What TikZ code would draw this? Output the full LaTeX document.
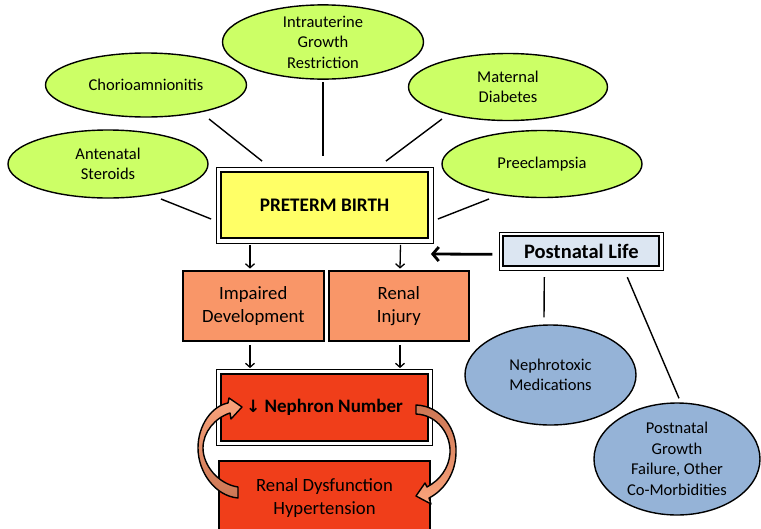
\documentclass[tikz,border=0pt]{standalone}
\usepackage{fontspec}
\setmainfont{Carlito}
\newfontfamily\symfont{DejaVu Sans}
\usetikzlibrary{shapes.geometric,arrows.meta}
\definecolor{lgreen}{RGB}{204,255,102}
\definecolor{lblue}{RGB}{149,179,215}
\definecolor{pyellow}{RGB}{255,255,102}
\definecolor{pale}{RGB}{220,230,242}
\definecolor{lorange}{RGB}{249,150,104}
\definecolor{dred}{RGB}{240,62,26}
\definecolor{arrlight}{RGB}{250,164,124}
\definecolor{arrdark}{RGB}{204,118,84}
\tikzset{
  txt/.style={font=\fontsize{16.5}{20.5}\selectfont, align=center, text=black},
  btxt/.style={font=\fontsize{18.7}{23}\selectfont, align=center, text=black},
  gell/.style={ellipse, draw=black, line width=1.4pt, fill=lgreen, inner sep=0pt, txt},
  bell/.style={ellipse, draw=black, line width=1.4pt, fill=lblue, inner sep=0pt, txt},
  dbox/.style={rectangle, draw=black, line width=1.8pt, inner sep=0pt, btxt},
  sbox/.style={rectangle, draw=black, line width=1.8pt, inner sep=0pt, btxt},
  conn/.style={draw=black, line width=1.4pt},
  arr/.style={draw=black, line width=1.3pt, -{Straight Barb[length=4pt,width=9pt]}},
  bigarr/.style={draw=black, line width=2.8pt, -{Straight Barb[length=6pt,width=14pt]}},
  outerline/.style={draw=black, line width=0.8pt},
  curvarr/.style={draw=black, line width=1.4pt, line join=round},
}
\begin{document}
\begin{tikzpicture}[x=1pt,y=-1pt]
\clip (0,0) rectangle (761,528);
\fill[white] (0,0) rectangle (761,528);

% green ellipses
\node[gell, minimum width=201pt, minimum height=64pt] (iugr) at (323,42) {Intrauterine\\Growth\\Restriction};
\node[gell, minimum width=201pt, minimum height=64pt] (chorio) at (146,85) {Chorioamnionitis};
\node[gell, minimum width=199pt, minimum height=67pt] (matdia) at (508,87) {Maternal\\Diabetes};
\node[gell, minimum width=200pt, minimum height=68pt] (ante) at (108,164) {Antenatal\\Steroids};
\node[gell, minimum width=200pt, minimum height=67pt] (preec) at (542,164) {Preeclampsia};

% preterm birth
\node[dbox, fill=pyellow, minimum width=207pt, minimum height=66pt] (preterm) at (324.5,205) {\fontsize{19.2}{23}\selectfont\bfseries PRETERM BIRTH};
\draw[outerline] ([shift={(-4,-4)}]preterm.north west) rectangle ([shift={(4,4)}]preterm.south east);

% postnatal life
\node[dbox, fill=pale, minimum width=156pt, minimum height=30pt] (postnatal) at (581.3,251.3) {\fontsize{20.5}{24}\selectfont\bfseries Postnatal Life};
\draw[outerline] ([shift={(-3.5,-3.5)}]postnatal.north west) rectangle ([shift={(3.5,3.5)}]postnatal.south east);

% middle boxes
\node[sbox, fill=lorange, minimum width=141pt, minimum height=70pt] (impaired) at (253.3,306) {Impaired\\Development};
\node[sbox, fill=lorange, minimum width=140pt, minimum height=70pt] (injury) at (398.8,306) {Renal\\Injury};

% nephron number
\node[dbox, fill=dred, minimum width=207pt, minimum height=67pt] (nephron) at (324.5,407.5) {{\symfont\fontsize{17}{20}\selectfont\bfseries ↓} \fontsize{19}{23}\selectfont\bfseries Nephron Number};
\draw[outerline] ([shift={(-3.5,-3.5)}]nephron.north west) rectangle ([shift={(3.5,3.5)}]nephron.south east);

% renal dysfunction
\node[sbox, fill=dred, minimum width=211pt, minimum height=74pt] (dysf) at (324.5,498) {Renal Dysfunction\\Hypertension};

% blue ellipses
\node[bell, minimum width=171pt, minimum height=100pt] (nephtox) at (550.5,375) {Nephrotoxic\\Medications};
\node[bell, minimum width=166pt, minimum height=112pt] (growth) at (677,459) {Postnatal\\Growth\\Failure, Other\\Co-Morbidities};

% connectors from causes
\draw[conn] ([shift={(53,35)}]ante.center) -- ([shift={(-9,14)}]preterm.west);
\draw[conn] ([shift={(63,34)}]chorio.center) -- ([shift={(42,-10)}]preterm.north west);
\draw[conn] ([shift={(0,40)}]iugr.center) -- ([shift={(-1.5,-15)}]preterm.north);
\draw[conn] ([shift={(-66,32)}]matdia.center) -- ([shift={(-43,-10)}]preterm.north east);
\draw[conn] ([shift={(-53,35)}]preec.center) -- ([shift={(9,14)}]preterm.east);

% postnatal connectors
\draw[conn] ([shift={(-37,10)}]postnatal.south) -- ([shift={(-6.5,-7)}]nephtox.north);
\draw[conn] ([shift={(46,10)}]postnatal.south) -- ([shift={(2,-4)}]growth.north);

% arrows
\draw[arr] ([shift={(-74.5,6)}]preterm.south) -- ([shift={(-3.3,-1.5)}]impaired.north);
\draw[arr] ([shift={(76,6)}]preterm.south) -- ([shift={(1.2,-1.5)}]injury.north);
\draw[arr] ([shift={(-3.3,3)}]impaired.south) -- ([shift={(-74.5,-5)}]nephron.north);
\draw[arr] ([shift={(1.2,3)}]injury.south) -- ([shift={(75.5,-5)}]nephron.north);
\draw[bigarr] ([shift={(-10,3)}]postnatal.west) -- ([shift={(2,49)}]preterm.east);

% curved block arrows
\shade[top color=arrlight, bottom color=arrdark, curvarr]
  (238,498) .. controls (215,496) and (198,472) .. (198,448)
  .. controls (198,425) and (212,406) .. (228,403)
  -- (229,398) -- (242,407) -- (231,419) -- (230,413)
  .. controls (215,418) and (203,432) .. (203,448)
  .. controls (203,465) and (218,484) .. (238,487) -- cycle;
\shade[top color=arrdark, bottom color=arrlight, curvarr]
  (416,405) .. controls (442,406) and (457,430) .. (456,452)
  .. controls (456,472) and (445,490) .. (429,498)
  -- (431,504) -- (416,496) -- (425,483) -- (427,487)
  .. controls (440,480) and (449,468) .. (450,453)
  .. controls (451,435) and (438,415) .. (416,414) -- cycle;
\end{tikzpicture}
\end{document}
